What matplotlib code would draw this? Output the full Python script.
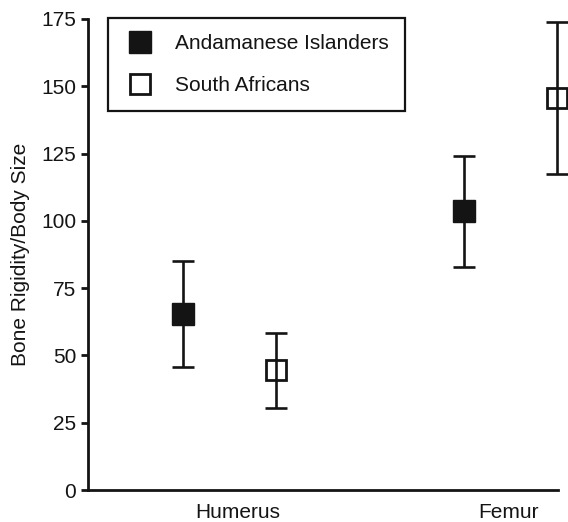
import matplotlib
matplotlib.use("Agg")
import matplotlib.pyplot as plt
import numpy as np

categories = ["Humerus", "Femur"]
andaman_mean = [65.5, 103.5]
andaman_err = [19.7, 20.7]
sa_mean = [44.5, 145.6]
sa_err = [14.0, 28.2]
yticks = [0, 25, 50, 75, 100, 125, 150, 175]

plt.rcParams["font.family"] = ["Liberation Sans", "DejaVu Sans"]
INK = "#141414"

fig = plt.figure(figsize=(5.68, 5.22), dpi=100)
ax = fig.add_axes([88 / 568, 32 / 522, 470 / 568, 471 / 522])

x = np.arange(len(categories))
off = 0.167

ax.errorbar(x - off, andaman_mean, yerr=andaman_err, fmt="none", ecolor=INK,
            elinewidth=1.9, capsize=8, capthick=1.9, clip_on=False, zorder=2)
ax.errorbar(x + off, sa_mean, yerr=sa_err, fmt="none", ecolor=INK,
            elinewidth=1.9, capsize=8, capthick=1.9, clip_on=False, zorder=2)
ax.plot(x - off, andaman_mean, "s", ms=15.5, mfc=INK, mec=INK, mew=1.0,
        linestyle="none", label="Andamanese Islanders", clip_on=False, zorder=3)
ax.plot(x + off, sa_mean, "s", ms=14.5, mfc="none", mec=INK, mew=2.0,
        linestyle="none", label="South Africans", clip_on=False, zorder=3)

ax.set_xlim(-0.5036, 1.169)
ax.set_ylim(0, 175)
ax.set_yticks(yticks)
# label positions sit slightly off the group centres in the reference
ax.set_xticks(x + np.array([0.028, -0.007]))
ax.set_xticklabels(categories)

for s in ["top", "right"]:
    ax.spines[s].set_visible(False)
for s in ["left", "bottom"]:
    ax.spines[s].set_linewidth(2.0)
    ax.spines[s].set_color(INK)

ax.tick_params(axis="y", length=5, width=2.0, color=INK, labelsize=15,
               labelcolor=INK, pad=3.5)
ax.tick_params(axis="x", length=0, labelsize=15, labelcolor=INK, pad=9)
ax.set_ylabel("Bone Rigidity/Body Size", fontsize=15, color=INK, labelpad=8)

leg = ax.legend(loc="upper left", bbox_to_anchor=(20 / 470, 1.002),
                borderaxespad=0, fontsize=15, frameon=True, fancybox=False,
                edgecolor=INK, framealpha=1, borderpad=0.78,
                handlelength=1.52, handletextpad=0.92, labelspacing=1.08,
                numpoints=1)
leg.get_frame().set_linewidth(1.6)
for t in leg.get_texts():
    t.set_color(INK)

fig.savefig("out.png", dpi=100)
